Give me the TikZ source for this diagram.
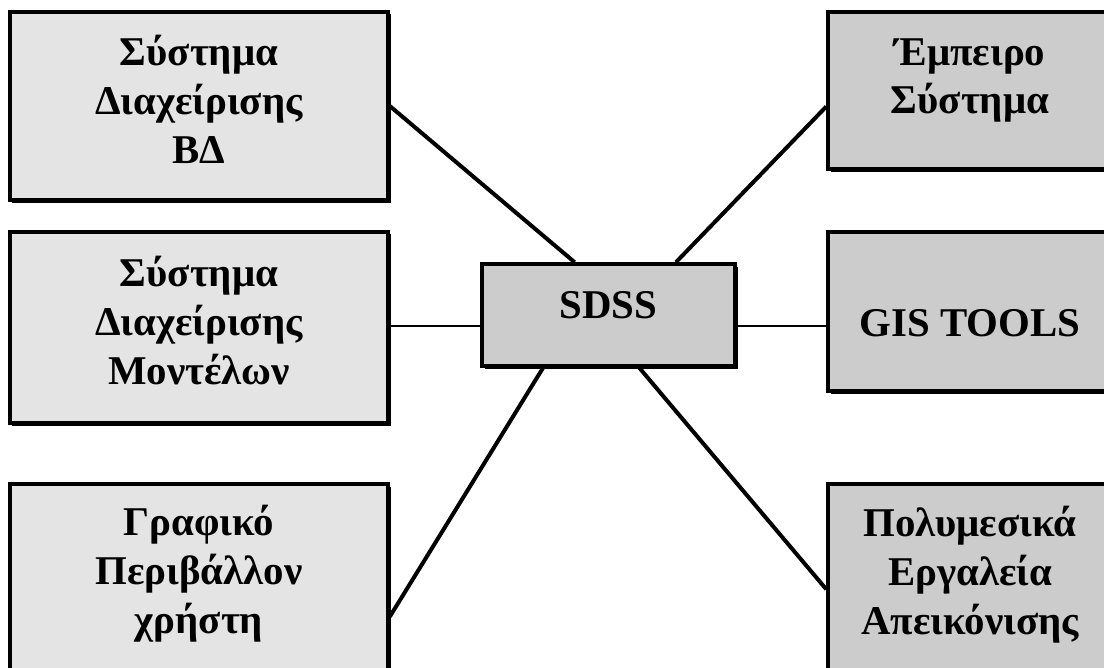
\documentclass[tikz,border=0pt]{standalone}
\usepackage{fontspec}
\setmainfont{Liberation Serif}
\usetikzlibrary{calc,shadows}
\definecolor{boxlight}{RGB}{228,228,228}
\definecolor{boxdark}{RGB}{204,204,204}
\begin{document}
\begin{tikzpicture}[x=1bp,y=-1bp,
  base/.style={draw=black, line width=3.5bp, inner sep=0pt, align=center,
    font=\fontsize{41}{49}\selectfont\bfseries,
    drop shadow={shadow xshift=2.5bp, shadow yshift=-2.5bp, fill=black, opacity=1}},
  % last baseline set #1/2 below the box centre
  lines/.style={text height=#1, text depth=0bp},
  leftbox/.style={base, fill=boxlight, minimum width=378bp},
  rightbox/.style={base, fill=boxdark, minimum width=284bp},
  hub/.style={base, fill=boxdark, minimum width=253bp, minimum height=102bp,
    text height=28bp, text depth=22bp},
  spoke/.style={draw=black, line width=4bp},
  link/.style={draw=black, line width=2bp}]
\path[use as bounding box, clip] (0,0) rectangle (1104,668);

% side boxes
\node[leftbox, minimum height=188bp, lines=114bp] (dbms) at (199,106) {Σύστημα\\Διαχείρισης\\ΒΔ};
\node[leftbox, minimum height=191bp, lines=113bp] (mms) at (199,327.5) {Σύστημα\\Διαχείρισης\\Μοντέλων};
\node[leftbox, minimum height=190bp, lines=108bp] (gui) at (199,579) {Γραφικό\\Περιβάλλον\\χρήστη};
\node[rightbox, minimum height=157bp, lines=47bp] (expert) at (970,90.5) {Έμπειρο\\Σύστημα};
\node[rightbox, minimum height=159bp, text height=50bp, text depth=0bp] (gis) at (970,311.5) {GIS TOOLS};
\node[rightbox, minimum height=190bp, lines=110bp] (media) at (970,579) {Πολυμεσικά\\Εργαλεία\\Απεικόνισης};

% central box
\node[hub] (sdss) at (608.5,315) {SDSS};

% attachment points
\coordinate (hl) at ($(sdss.north west)!0.6!(sdss.south west)$);
\coordinate (hr) at ($(sdss.north east)!0.6!(sdss.south east)$);

% connectors
\draw[spoke] (dbms.east) -- ($(sdss.north west)!0.368!(sdss.north east)$);
\draw[spoke] ($(sdss.north west)!0.763!(sdss.north east)$) -- ($(expert.north west)!0.6!(expert.south west)$);
\draw[link] (hl) -- (hl -| mms.east);
\draw[link] (hr) -- (hr -| gis.west);
\draw[spoke] ($(sdss.south west)!0.245!(sdss.south east)$) -- ($(gui.north east)!0.695!(gui.south east)$);
\draw[spoke] ($(sdss.south west)!0.62!(sdss.south east)$) -- ($(media.north west)!0.553!(media.south west)$);
\end{tikzpicture}
\end{document}
